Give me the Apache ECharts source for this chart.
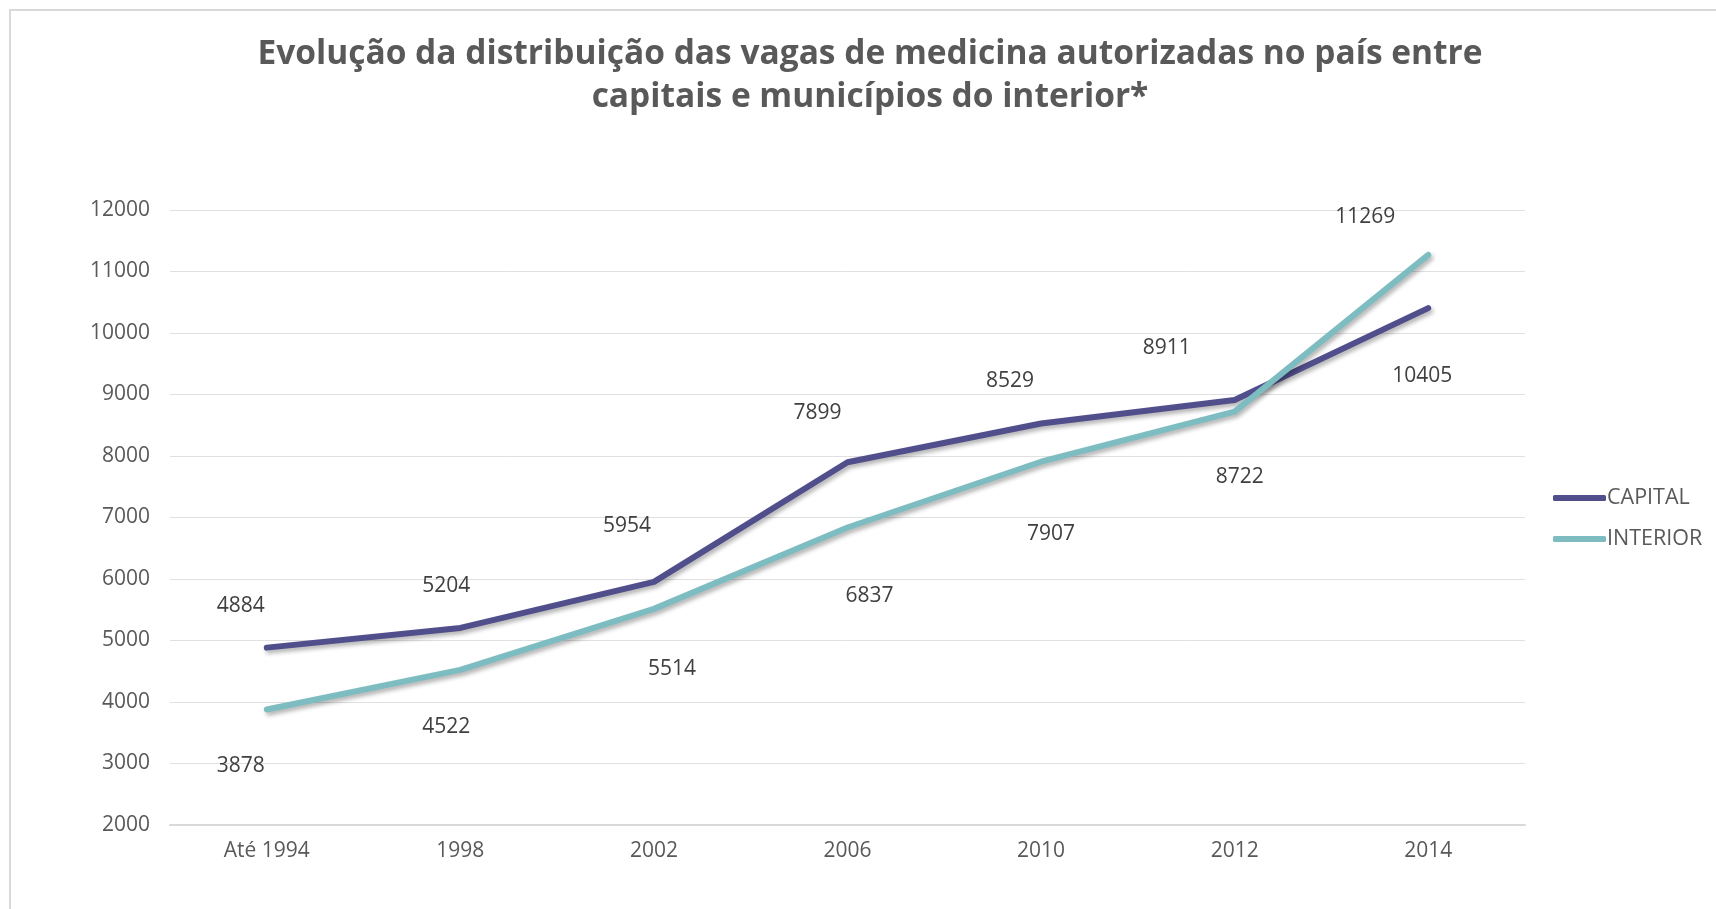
<!DOCTYPE html>
<html>
<head>
<meta charset="utf-8">
<script src="https://cdn.jsdelivr.net/npm/echarts@6/dist/echarts.min.js"></script>
<style>
  html, body { margin: 0; padding: 0; background: #fff; }
  #frame {
    position: absolute; left: 9px; top: 9px; width: 1720px; height: 910px;
    border-top: 2px solid #d9d9d9; border-left: 2px solid #d9d9d9;
  }
  #main { position: absolute; left: 0; top: 0; width: 1716px; height: 909px; }
</style>
</head>
<body>
<div id="frame"></div>
<div id="main"></div>
<script>
// dados do gráfico
var categorias = ['Até 1994', '1998', '2002', '2006', '2010', '2012', '2014'];
var capital = [4884, 5204, 5954, 7899, 8529, 8911, 10405];
var interior = [3878, 4522, 5514, 6837, 7907, 8722, 11269];
var nomesSeries = ['CAPITAL', 'INTERIOR'];

// deslocamento dos rótulos (como no Excel, colocados à mão)
var offsetCapital = [[-26, -42], [-14, -42], [-27, -56], [-30, -49], [-31, -42], [-68, -52], [-6, 68]];
var offsetInterior = [[-26, 57], [-14, 57], [18, 60], [22, 68], [10, 72], [5, 65], [-63, -38]];

var fonte = '"Open Sans", "Noto Sans", sans-serif';

function comRotulos(valores, offsets) {
    return valores.map(function (v, i) {
        return { value: v, label: { offset: offsets[i] } };
    });
}

var myChart = echarts.init(document.getElementById('main'));
myChart.setOption({
    animation: false,
    title: {
        text: 'Evolução da distribuição das vagas de medicina autorizadas no país entre\ncapitais e municípios do interior*',
        left: 865,
        top: 28,
        textAlign: 'center',
        textStyle: {
            fontFamily: fonte,
            fontSize: 33.5,
            fontWeight: 'bold',
            color: '#595959',
            lineHeight: 43
        }
    },
    legend: {
        orient: 'vertical',
        left: 1548,
        top: 482,
        itemWidth: 53,
        itemHeight: 6,
        itemGap: 19,
        icon: 'roundRect',
        textStyle: { fontFamily: fonte, fontSize: 21.5, color: '#595959', padding: [0, 0, 0, -4] },
        data: nomesSeries
    },
    grid: { left: 170, right: 191, top: 210, bottom: 84 },
    xAxis: {
        type: 'category',
        data: categorias,
        axisLine: { lineStyle: { color: '#d9d9d9', width: 2 } },
        axisTick: { show: false },
        axisLabel: { fontFamily: fonte, fontSize: 21, color: '#595959', margin: 16 }
    },
    yAxis: {
        type: 'value',
        min: 2000,
        max: 12000,
        interval: 1000,
        axisLine: { show: false },
        axisTick: { show: false },
        axisLabel: {
            fontFamily: fonte, fontSize: 21, color: '#595959', margin: 20,
            formatter: function (v) { return String(v); }
        },
        splitLine: { lineStyle: { color: '#e0e0e0', width: 1 } }
    },
    series: [{
        name: nomesSeries[0],
        type: 'line',
        data: comRotulos(capital, offsetCapital),
        symbol: 'circle',
        symbolSize: 0,
        showSymbol: true,
        color: '#514e8c',
        lineStyle: {
            width: 6, cap: 'round', join: 'round',
            shadowColor: 'rgba(0,0,0,0.3)', shadowBlur: 4, shadowOffsetX: 2, shadowOffsetY: 3
        },
        label: {
            show: true, position: 'inside',
            fontFamily: fonte, fontSize: 21, color: '#404040'
        }
    }, {
        name: nomesSeries[1],
        type: 'line',
        data: comRotulos(interior, offsetInterior),
        symbol: 'circle',
        symbolSize: 0,
        showSymbol: true,
        color: '#7dbcc0',
        lineStyle: {
            width: 6, cap: 'round', join: 'round',
            shadowColor: 'rgba(0,0,0,0.3)', shadowBlur: 4, shadowOffsetX: 2, shadowOffsetY: 3
        },
        label: {
            show: true, position: 'inside',
            fontFamily: fonte, fontSize: 21, color: '#404040'
        }
    }]
});
</script>
</body>
</html>
